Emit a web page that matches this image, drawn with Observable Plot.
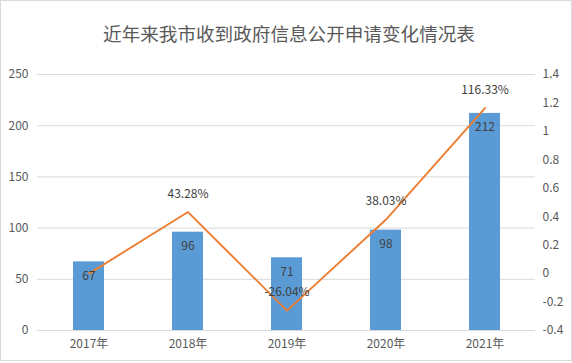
<!DOCTYPE html>
<html><head><meta charset="utf-8">
<script src="https://cdn.jsdelivr.net/npm/d3@7"></script>
<script src="https://cdn.jsdelivr.net/npm/@observablehq/plot@0.6"></script>
<style>
body{margin:0;background:#fff;}
#wrap{position:relative;width:572px;height:363px;overflow:hidden;font-family:'Noto Sans CJK SC',sans-serif;}
#title{position:absolute;left:0;top:20px;width:578px;text-align:center;font-size:18.6px;line-height:26px;color:#595959;}
#chart{position:absolute;left:0;top:60px;}
#border{position:absolute;left:0;top:0;width:572px;height:361px;box-sizing:border-box;border:1px solid #d9d9d9;pointer-events:none;}
</style></head>
<body>
<div id="wrap"><div id="title">近年来我市收到政府信息公开申请变化情况表</div><div id="chart"></div><div id="border"></div></div>
<script>
const years = ["2017年","2018年","2019年","2020年","2021年"];
const counts = [67, 96, 71, 98, 212];
const growth = [0, 0.4328, -0.2604, 0.3803, 1.1633];
const growthLabels = ["", "43.28%", "-26.04%", "38.03%", "116.33%"];
const leftTicks = [0, 50, 100, 150, 200, 250];
const rightTicks = [-0.4, -0.2, 0, 0.2, 0.4, 0.6, 0.8, 1, 1.2, 1.4];

const rMin = -0.4, rMax = 1.4, lMax = 250;
const toLeft = v => (v - rMin) / (rMax - rMin) * lMax;
const toRight = d => d / lMax * (rMax - rMin) + rMin;

const data = years.map((y, i) => ({year: y, count: counts[i], g: toLeft(growth[i]), gl: growthLabels[i]}));

const chart = Plot.plot({
  width: 572, height: 300,
  marginTop: 14, marginBottom: 30, marginLeft: 37, marginRight: 37,
  style: {fontFamily: "'Noto Sans CJK SC', sans-serif", fontSize: "12px", color: "#595959", background: "transparent"},
  x: {domain: years, paddingInner: 0.69, paddingOuter: 0.345},
  y: {domain: [0, lMax]},
  marks: [
    Plot.gridY(leftTicks, {stroke: "#d9d9d9", strokeOpacity: 1, strokeWidth: 1}),
    Plot.barY(data, {x: "year", y: "count", fill: "#5b9bd5"}),
    Plot.line(data, {x: "year", y: "g", stroke: "#ed7d31", strokeWidth: 1.9}),
    Plot.text(data, {x: "year", y: "count", text: d => String(d.count), dy: 14, fill: "#404040", fontSize: 12}),
    Plot.text(data, {x: "year", y: "g", text: "gl", dy: -18, fill: "#404040", fontSize: 12}),
    Plot.axisY({anchor: "left", ticks: leftTicks, tickSize: 0, tickPadding: 9, label: null, fill: "#595959"}),
    Plot.axisY({anchor: "right", ticks: rightTicks.map(toLeft), tickSize: 0, tickPadding: 7, label: null, fill: "#595959",
      tickFormat: d => String(+toRight(d).toFixed(1))}),
    Plot.axisX({tickSize: 0, tickPadding: 9, label: null, fill: "#595959"})
  ]
});
document.getElementById("chart").appendChild(chart);
</script>
</body></html>
